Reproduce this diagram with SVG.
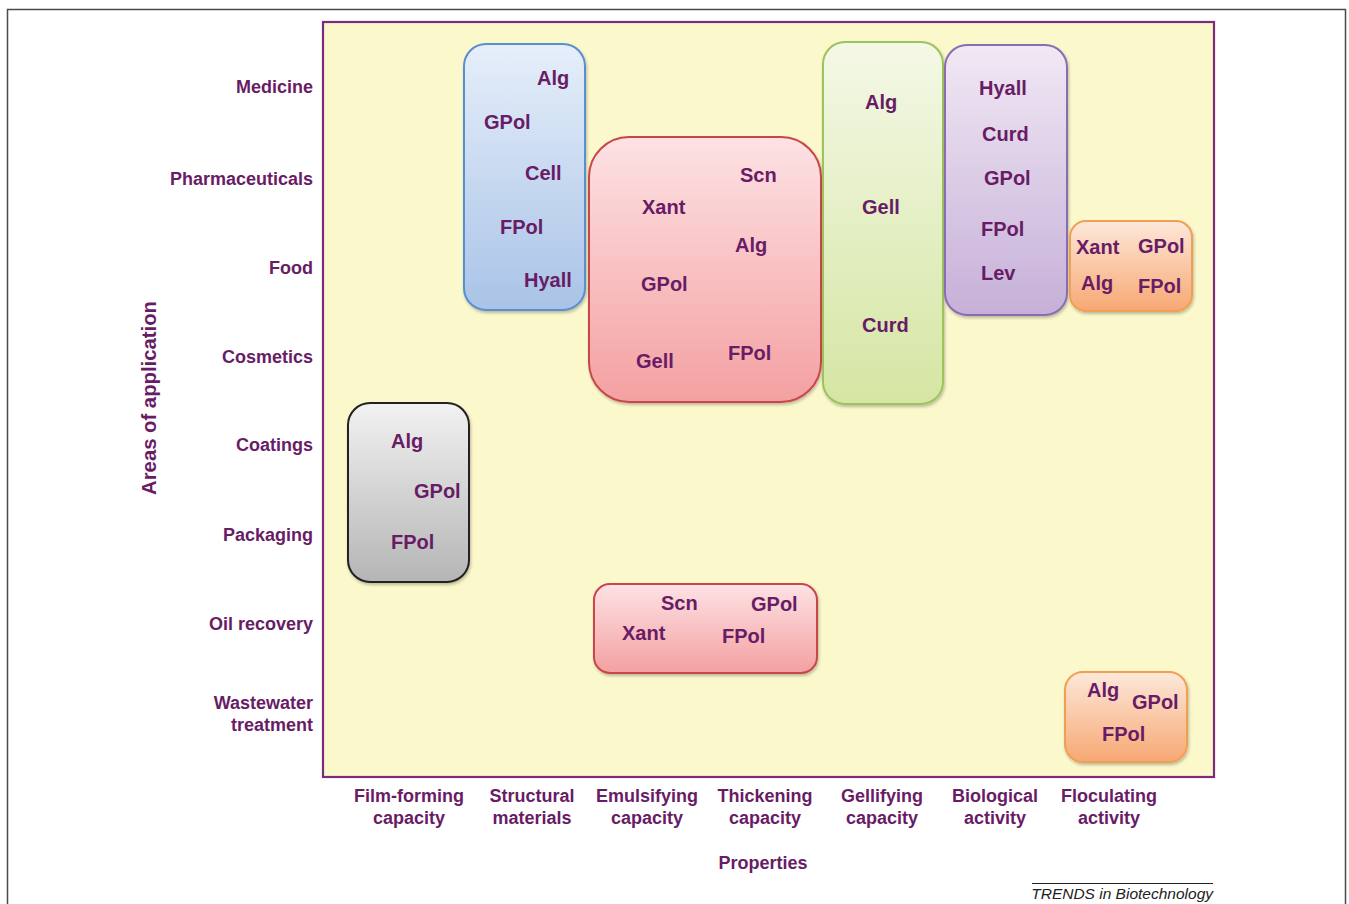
<svg xmlns="http://www.w3.org/2000/svg" width="1349" height="904" viewBox="0 0 1349 904">
<defs>
<style>
.lbl{font-family:"Liberation Sans",Arial,sans-serif;font-weight:bold;fill:#681c66;}
.ax{font-size:18px;}
.bx{font-size:20px;}
.r{text-anchor:end;}
.m{text-anchor:middle;}
.box{stroke-width:2;filter:url(#sh);}
</style>
<filter id="sh" x="-10%" y="-10%" width="120%" height="120%">
<feDropShadow dx="1" dy="2" stdDeviation="1.5" flood-color="#000" flood-opacity="0.25"/>
</filter>
<linearGradient id="gBlue" x1="0" y1="0" x2="0" y2="1"><stop offset="0" stop-color="#e6effa"/><stop offset="1" stop-color="#a9c3e7"/></linearGradient>
<linearGradient id="gRed" x1="0" y1="0" x2="0" y2="1"><stop offset="0" stop-color="#fde2e4"/><stop offset="1" stop-color="#f4a0a1"/></linearGradient>
<linearGradient id="gGreen" x1="0" y1="0" x2="0" y2="1"><stop offset="0" stop-color="#f4f8e6"/><stop offset="1" stop-color="#d5e6a3"/></linearGradient>
<linearGradient id="gPurple" x1="0" y1="0" x2="0" y2="1"><stop offset="0" stop-color="#f1e8f4"/><stop offset="1" stop-color="#c6b0d8"/></linearGradient>
<linearGradient id="gOrange" x1="0" y1="0" x2="0" y2="1"><stop offset="0" stop-color="#fde8da"/><stop offset="1" stop-color="#f7a873"/></linearGradient>
<linearGradient id="gGray" x1="0" y1="0" x2="0" y2="1"><stop offset="0" stop-color="#f2f2f2"/><stop offset="1" stop-color="#b5b5b5"/></linearGradient>
</defs>
<rect x="0" y="0" width="1349" height="904" fill="#ffffff"/>
<rect x="7.5" y="9.5" width="1338" height="910" fill="none" stroke="#4a4a4a" stroke-width="1.5"/>
<rect id="plot" x="323" y="22" width="891" height="755" fill="#fbf8cc" stroke="#7b2d7b" stroke-width="2.2"/>

<g id="y-axis">
<text class="lbl" x="149" y="398" font-size="20.3" text-anchor="middle" transform="rotate(-90 149 398)" dy="7">Areas of application</text>
<text class="lbl ax r" x="313" y="93">Medicine</text>
<text class="lbl ax r" x="313" y="185">Pharmaceuticals</text>
<text class="lbl ax r" x="313" y="274">Food</text>
<text class="lbl ax r" x="313" y="363">Cosmetics</text>
<text class="lbl ax r" x="313" y="451">Coatings</text>
<text class="lbl ax r" x="313" y="541">Packaging</text>
<text class="lbl ax r" x="313" y="630">Oil recovery</text>
<text class="lbl ax r" x="313" y="709">Wastewater</text>
<text class="lbl ax r" x="313" y="731">treatment</text>
</g>

<g id="x-axis">
<text class="lbl ax m" x="409" y="802">Film-forming</text>
<text class="lbl ax m" x="409" y="824">capacity</text>
<text class="lbl ax m" x="532" y="802">Structural</text>
<text class="lbl ax m" x="532" y="824">materials</text>
<text class="lbl ax m" x="647" y="802">Emulsifying</text>
<text class="lbl ax m" x="647" y="824">capacity</text>
<text class="lbl ax m" x="765" y="802">Thickening</text>
<text class="lbl ax m" x="765" y="824">capacity</text>
<text class="lbl ax m" x="882" y="802">Gellifying</text>
<text class="lbl ax m" x="882" y="824">capacity</text>
<text class="lbl ax m" x="995" y="802">Biological</text>
<text class="lbl ax m" x="995" y="824">activity</text>
<text class="lbl ax m" x="1109" y="802">Floculating</text>
<text class="lbl ax m" x="1109" y="824">activity</text>
<text class="lbl ax m" x="763" y="869">Properties</text>
</g>

<g id="box-structural">
<rect class="box" x="464" y="44" width="121" height="266" rx="22" fill="url(#gBlue)" stroke="#5a8fcf"/>
<text class="lbl bx" x="537" y="85">Alg</text>
<text class="lbl bx" x="484" y="129">GPol</text>
<text class="lbl bx" x="525" y="180">Cell</text>
<text class="lbl bx" x="500" y="234">FPol</text>
<text class="lbl bx" x="524" y="287">Hyall</text>
</g>

<g id="box-emulsifying">
<rect class="box" x="589" y="137" width="232" height="265" rx="40" fill="url(#gRed)" stroke="#c8474b"/>
<text class="lbl bx" x="740" y="182">Scn</text>
<text class="lbl bx" x="642" y="214">Xant</text>
<text class="lbl bx" x="735" y="252">Alg</text>
<text class="lbl bx" x="641" y="291">GPol</text>
<text class="lbl bx" x="636" y="368">Gell</text>
<text class="lbl bx" x="728" y="360">FPol</text>
</g>

<g id="box-gellifying">
<rect class="box" x="823" y="42" width="120" height="362" rx="22" fill="url(#gGreen)" stroke="#9cc45b"/>
<text class="lbl bx" x="865" y="109">Alg</text>
<text class="lbl bx" x="862" y="214">Gell</text>
<text class="lbl bx" x="862" y="332">Curd</text>
</g>

<g id="box-biological">
<rect class="box" x="945" y="45" width="122" height="270" rx="22" fill="url(#gPurple)" stroke="#8a6cb4"/>
<text class="lbl bx" x="979" y="95">Hyall</text>
<text class="lbl bx" x="982" y="141">Curd</text>
<text class="lbl bx" x="984" y="185">GPol</text>
<text class="lbl bx" x="981" y="236">FPol</text>
<text class="lbl bx" x="981" y="280">Lev</text>
</g>

<g id="box-floc-top">
<rect class="box" x="1070" y="221" width="122" height="90" rx="16" fill="url(#gOrange)" stroke="#f0a052"/>
<text class="lbl bx" x="1076" y="254">Xant</text>
<text class="lbl bx" x="1138" y="253">GPol</text>
<text class="lbl bx" x="1081" y="290">Alg</text>
<text class="lbl bx" x="1138" y="293">FPol</text>
</g>

<g id="box-film">
<rect class="box" x="348" y="403" width="121" height="179" rx="22" fill="url(#gGray)" stroke="#222222"/>
<text class="lbl bx" x="391" y="448">Alg</text>
<text class="lbl bx" x="414" y="498">GPol</text>
<text class="lbl bx" x="391" y="549">FPol</text>
</g>

<g id="box-oil">
<rect class="box" x="594" y="584" width="223" height="89" rx="16" fill="url(#gRed)" stroke="#c8474b"/>
<text class="lbl bx" x="661" y="610">Scn</text>
<text class="lbl bx" x="751" y="611">GPol</text>
<text class="lbl bx" x="622" y="640">Xant</text>
<text class="lbl bx" x="722" y="643">FPol</text>
</g>

<g id="box-floc-bottom">
<rect class="box" x="1065" y="672" width="122" height="90" rx="18" fill="url(#gOrange)" stroke="#f0a052"/>
<text class="lbl bx" x="1087" y="697">Alg</text>
<text class="lbl bx" x="1132" y="709">GPol</text>
<text class="lbl bx" x="1102" y="741">FPol</text>
</g>

<g id="connectors"></g>

<g id="credit">
<line x1="1032" y1="883.5" x2="1213" y2="883.5" stroke="#222" stroke-width="1"/>
<text x="1213" y="899" text-anchor="end" font-family="Liberation Sans,Arial,sans-serif" font-style="italic" font-size="15.5" fill="#222">TRENDS in Biotechnology</text>
</g>
</svg>
